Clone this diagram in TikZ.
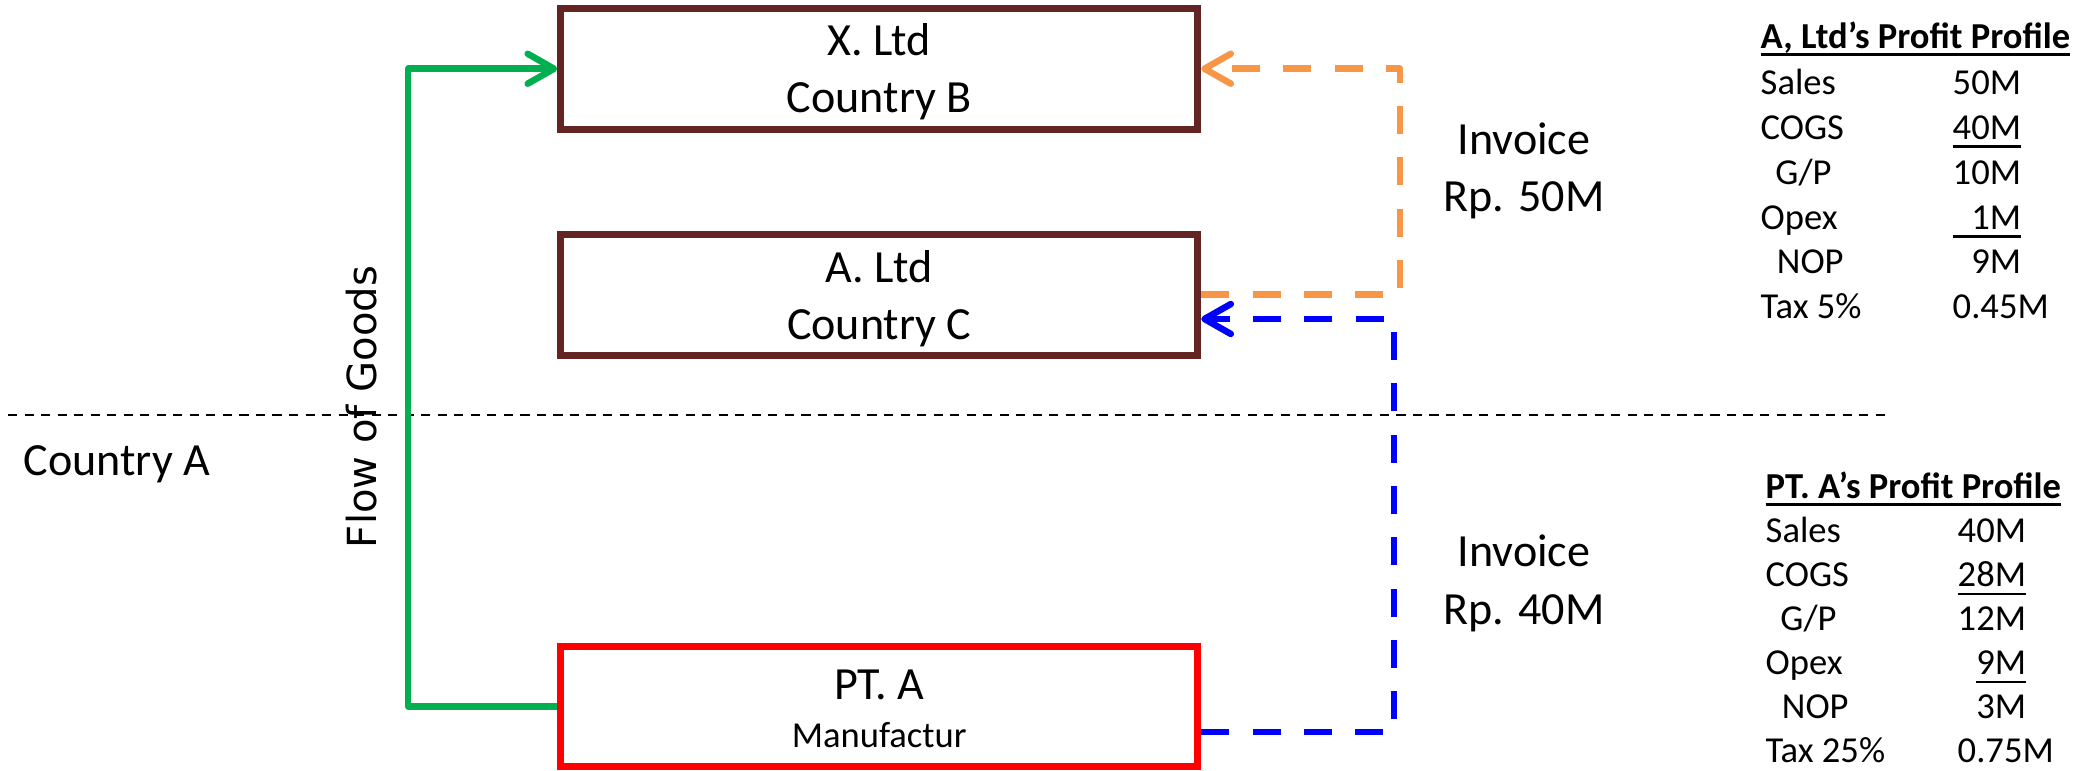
\documentclass[tikz,border=0pt]{standalone}
\usepackage{fontspec}
\setmainfont{Carlito}
\newfontfamily\flowfont{DejaVu Sans}
\usetikzlibrary{arrows.meta,calc}
\definecolor{boxbrown}{RGB}{99,37,35}
\definecolor{goodsgreen}{RGB}{0,176,80}
\definecolor{invorange}{RGB}{247,150,70}
\definecolor{invblue}{RGB}{0,0,255}
\definecolor{mfgred}{RGB}{255,0,0}
% underline drawn as a rule just below the baseline
\newcommand\figul[2][-2.4pt]{\setbox0=\hbox{#2}\rlap{\rule[#1]{\wd0}{0.8pt}}\box0}
\newcommand\gpl{G/P}
\begin{document}
\begin{tikzpicture}[x=0.01cm,y=-0.01cm,
  entity/.style={draw, line width=2pt, minimum width=6.365cm, minimum height=1.205cm, inner sep=0pt},
  big/.style={font=\fontsize{13.1}{16.5}\selectfont, inner sep=0pt},
  small/.style={font=\fontsize{10.4}{12.75}\selectfont, inner sep=0pt},
  flow/.style={line width=1.85pt, line join=round},
  invoice/.style={dash pattern=on 8pt off 6.6pt},
  tip/.style={-{Straight Barb[length=7.5pt,width=8.5pt,line cap=round,line join=round]}},
  row/.style={small, anchor=base west}
]
\useasboundingbox (0,0) rectangle (2100,771);

% companies
\node[entity, draw=boxbrown] (xltd) at (879.25,68.75) {};
\node[entity, draw=boxbrown] (altd) at (879.25,294.75) {};
\node[entity, draw=mfgred]   (pta)  at (879.25,706.5) {};

\node[big, anchor=base] (xltd-1) at ($(xltd.center)+(0,-13)$) {X. Ltd};
\node[big, anchor=base] (xltd-2) at ($(xltd.center)+(0,44)$) {Country B};
\node[big, anchor=base] (altd-1) at ($(altd.center)+(0,-12)$) {A. Ltd};
\node[big, anchor=base] (altd-2) at ($(altd.center)+(0,45)$) {Country C};
\node[big, anchor=base] (pta-1) at ($(pta.center)+(0,-6.5)$) {PT. A};
\node[small, anchor=base] (pta-2) at ($(pta.center)+(0,41.5)$) {Manufactur};

% border between countries
\coordinate (border-w) at (8,415);
\coordinate (border-e) at (1892,415);
\draw[line width=0.6pt, dash pattern=on 2.6pt off 2.1pt] (border-w) -- (border-e);
\node[big, anchor=base west] (ctrya) at (23,476) {Country A};

% flow of goods
\coordinate (gx) at (408,0);
\draw[flow, goodsgreen, tip] (pta.west) -- (pta.west -| gx) -- (xltd.west -| gx) -- (xltd.west);
\node[rotate=90, inner sep=0pt, font=\flowfont\fontsize{11.4}{13}\selectfont] (goods) at (362,407) {Flow of Goods};

% invoices
\coordinate (ox) at (1400,0);
\draw[flow, invoice, invorange, tip] (altd.east) -- (altd.east -| ox) -- (xltd.east -| ox) -- (xltd.east);
\coordinate (bx) at (1394,0);
\coordinate (bs) at ($(pta.east)+(0,25.5)$);
\coordinate (be) at ($(altd.east)+(0,24.25)$);
\draw[flow, invoice, invblue, tip] (bs) -- (bs -| bx) -- (be -| bx) -- (be);

\node[big, anchor=base] (inv1-1) at (1524,155) {Invoice};
\node[big, anchor=base] (inv1-2) at (1524,212) {Rp. 50M};
\node[big, anchor=base] (inv2-1) at (1524,567) {Invoice};
\node[big, anchor=base] (inv2-2) at (1524,625) {Rp. 40M};

% profit profiles
\node[row] (a-title) at (1760,49) {\bfseries\figul[-2pt]{A, Ltd’s Profit Profile}};
\foreach \lab/\val [count=\i from 0] in {Sales/50M, COGS/{\figul{40M}}, {\hspace*{4.2pt}\gpl}/10M,
    Opex/{\figul{\hphantom{0}1M}}, {\hspace*{4.6pt}NOP}/{\hphantom{0}9M}, Tax 5\%/0.45M}{
  \node[row] (a-lab-\i) at (1760,95+44.7*\i) {\lab};
  \node[row] (a-val-\i) at (1952,95+44.7*\i) {\val};
}
\node[row] (p-title) at (1765,499) {\bfseries\figul[-2pt]{PT. A’s Profit Profile}};
\foreach \lab/\val [count=\i from 0] in {Sales/40M, COGS/{\figul{28M}}, {\hspace*{4.2pt}\gpl}/12M,
    Opex/{\hphantom{0}\figul{9M}}, {\hspace*{4.6pt}NOP}/{\hphantom{0}3M}, Tax 25\%/0.75M}{
  \node[row] (p-lab-\i) at (1765,543+44*\i) {\lab};
  \node[row] (p-val-\i) at (1957,543+44*\i) {\val};
}
\end{tikzpicture}
\end{document}
